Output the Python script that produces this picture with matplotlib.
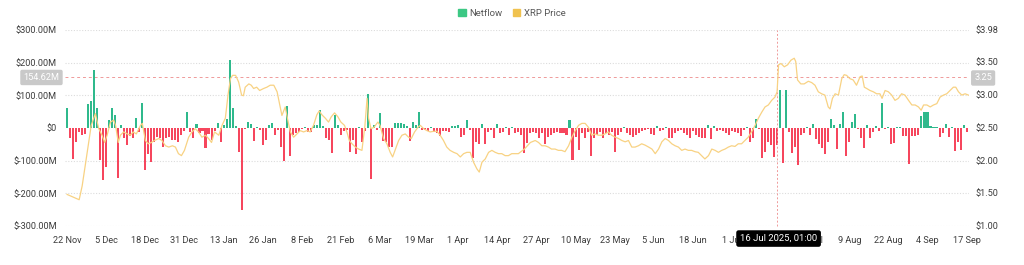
import numpy as np
import pandas as pd
import matplotlib
matplotlib.use("Agg")
import matplotlib.pyplot as plt
from matplotlib.patches import Patch

# daily netflow, $M, starting 22 Nov 2024
start_date = "2024-11-22"
netflow = [
    62, -30, -95, -42, -12, -20, -18, 72, 82, 177,
    62, -98, -158, -118, 24, 62, 40, -152, 8, -30,
    -52, -25, -32, 30, -12, 78, -128, -80, -103, -42,
    -28, -32, -58, -32, -28, -38, -36, -44, -22, -10,
    50, -12, -32, 11, -16, -10, -62, -18, -38, -10,
    14, -44, 9, 28, 207, 62, 5, -74, -251, -3,
    19, 12, -39, 3, -6, -52, -37, 9, 16, -21,
    -5, -57, -100, 68, -85, -21, -16, -11, -3, 3,
    -11, -13, 9, 9, 55, 6, -32, -37, -75, 40,
    8, -21, -9, -6, -72, -37, -80, 3, -42, -8,
    103, -156, 9, -5, 45, -40, -42, -57, -57, 14,
    14, 16, 12, 6, -40, 17, 9, 48, -6, -6,
    -9, 3, -11, -16, -23, -9, -9, -11, 6, 7,
    9, -27, -21, 23, -5, -91, -42, -50, 13, -50,
    -13, -5, -30, 11, -16, -11, 3, -21, 3, -16,
    -13, -21, -75, -47, -14, -11, -16, -32, -16, -50,
    -27, -21, -16, -11, -16, -14, -21, 24, -98, -27,
    -67, -16, -32, -11, -85, -32, -21, -11, -30, -16,
    -21, -11, -72, -21, -11, 4, -16, -21, -27, -21,
    -16, -9, -6, -4, -19, -21, 6, -9, -6, 4,
    -32, -30, -16, -9, -6, -16, -21, -32, -9, -21,
    -27, -32, -32, 9, -34, 6, -9, -6, -9, -16,
    -21, -9, -11, -16, -23, -6, 3, -44, -32, 26,
    -4, -91, -72, -42, -52, -90, -52, 115, -106, 115,
    -11, -78, -57, -113, -21, -16, 3, -21, 13, -35,
    -50, -60, -81, -44, 26, 9, -64, 12, 48, -85,
    -42, 17, 43, -4, -30, -60, 9, -32, -11, 6,
    -9, 75, -4, 3, -49, -47, 3, 3, -23, -23,
    -110, -23, -23, -21, 38, 50, 50, 6, 4, 4,
    -27, -16, 12, -29, 3, -69, -42, -67, 9, -13,
]

# XRP price samples (days since 22 Nov 2024, USD)
price_day = [
    0, 2, 4, 5, 6, 7, 8, 9.4, 10.5, 11.6, 12.5, 13.3, 14.4, 15.5, 16.1, 17, 17.7,
    18.8, 20, 21, 22, 23, 24.4, 25, 26, 27, 28, 29, 30.5, 31.5, 32.7, 33.8, 35,
    36, 37, 38, 39, 40.4, 41.5, 42.6, 43.7, 44.8, 46, 47, 48, 49, 50.4, 51.5,
    52.6, 53.5, 54.3, 55, 56, 57, 58, 58.6, 59.2, 60.4, 61.2, 62, 63, 64, 65.3,
    66.4, 67.5, 68.7, 69.8, 70.6, 71.4, 72.5, 73.4, 74.2, 75.3, 76.4, 77.5,
    78.6, 79.7, 80.8, 81.9, 83, 83.8, 84.7, 85.8, 86.9, 87.8, 88.9, 90, 91,
    92.2, 93, 93.8, 94.7, 95.8, 96.9, 98, 99, 99.7, 100.2, 101, 102, 103.3,
    104, 105.2, 106.3, 107.4, 108.2, 109, 110.2, 111.3, 112.4, 113.5, 114.4,
    115.5, 116.6, 117.4, 118.5, 119.6, 120.7, 121.8, 122.9, 124, 125.1, 126.2,
    127.3, 128.5, 129.6, 130.7, 131.8, 132.9, 134, 135.1, 136.2, 137, 137.9,
    139, 140.1, 141.2, 142.3, 143.4, 144.5, 145.6, 146.7, 147.8, 150, 152, 154,
    155.6, 156.7, 157.8, 158.9, 160, 161, 162.2, 163.3, 164.4, 165.5, 166.7,
    167.8, 168.9, 170, 171.1, 172.2, 173.3, 174.4, 175.5, 176.6, 177.7, 178.8,
    179.9, 181, 182.2, 183.3, 184.4, 185.5, 186.6, 187.7, 188.8, 189.9, 191,
    192.1, 193.3, 194.4, 195.5, 196.6, 197.7, 198.8, 199.9, 201, 202.1, 203.2,
    204.3, 205.4, 206.5, 207.6, 208.7, 209.8, 210.9, 212, 213.2, 214.3, 215.4,
    216.5, 217.6, 218.7, 219.8, 220.9, 222, 223.1, 224.2, 225.3, 226.4, 227.5,
    228.7, 229.8, 230.9, 232, 233.1, 234.2, 235.3, 236, 236.5, 237.3, 238.4,
    239.5, 240.6, 241.7, 242.2, 242.8, 243.9, 245, 246.4, 247.5, 248.6, 249.7,
    250.8, 251.9, 253, 253.6, 254.4, 255.3, 256.4, 257.5, 258.3, 259.1, 260.2,
    261.3, 262.4, 263.6, 264.3, 265, 265.8, 266.9, 268, 269.1, 270.2, 270.9,
    271.9, 273, 274.1, 275.2, 276.3, 277.4, 278.5, 279.7, 280.8, 281.9, 283,
    283.9, 284.7, 285.8, 286.9, 288, 289.1, 290.2, 291.3, 292.4, 293.5, 294.6,
    295.4, 296.3, 297.4, 298.5, 299.6,
]
price = [
    1.48, 1.44, 1.40, 1.61, 1.91, 2.22, 2.53, 2.71, 2.48, 2.38, 2.27, 2.38, 2.58, 2.61, 2.53, 2.27, 2.38,
    2.43, 2.40, 2.38, 2.43, 2.40, 2.53, 2.56, 2.30, 2.25, 2.27, 2.30, 2.33, 2.30, 2.22, 2.20, 2.22,
    2.20, 2.10, 2.07, 2.15, 2.35, 2.43, 2.48, 2.43, 2.35, 2.38, 2.33, 2.27, 2.43, 2.38, 2.53,
    2.64, 3.00, 3.24, 3.29, 3.29, 3.19, 2.99, 2.98, 3.11, 3.16, 3.14, 3.09, 3.11, 3.06, 3.09,
    3.11, 3.14, 3.14, 3.04, 2.86, 2.68, 2.81, 2.60, 2.43, 2.35, 2.40, 2.45,
    2.43, 2.45, 2.43, 2.53, 2.69, 2.75, 2.69, 2.64, 2.58, 2.66, 2.72, 2.66, 2.58,
    2.53, 2.43, 2.30, 2.25, 2.20, 2.17, 2.15, 2.53, 2.94, 2.64, 2.48, 2.50, 2.58,
    2.53, 2.33, 2.25, 2.12, 2.05, 2.15, 2.30, 2.38, 2.40, 2.35, 2.33,
    2.43, 2.50, 2.53, 2.48, 2.45, 2.43, 2.44, 2.44, 2.38, 2.30, 2.20,
    2.15, 2.12, 2.10, 2.05, 2.10, 2.12, 2.12, 1.97, 1.87, 1.82, 1.97,
    2.02, 2.12, 2.15, 2.12, 2.10, 2.10, 2.07, 2.07, 2.10, 2.10, 2.17, 2.27,
    2.30, 2.27, 2.22, 2.22, 2.20, 2.17, 2.17, 2.15, 2.15, 2.13, 2.22,
    2.35, 2.45, 2.53, 2.56, 2.56, 2.50, 2.38, 2.40, 2.38, 2.38, 2.40,
    2.43, 2.38, 2.35, 2.33, 2.30, 2.28, 2.30, 2.20, 2.20, 2.22, 2.25,
    2.23, 2.20, 2.17, 2.10, 2.17, 2.28, 2.33, 2.30, 2.25, 2.22, 2.20,
    2.15, 2.17, 2.15, 2.15, 2.13, 2.12, 2.07, 2.02, 2.07, 2.17, 2.15,
    2.12, 2.15, 2.17, 2.20, 2.22, 2.21, 2.25, 2.25, 2.30, 2.35, 2.43,
    2.53, 2.64, 2.73, 2.81, 2.84, 2.91, 2.96, 3.04, 3.45, 3.47, 3.42,
    3.45, 3.52, 3.55, 3.50, 3.22, 3.16, 3.16, 3.20, 3.18, 3.14, 3.04,
    3.01, 2.99, 2.81, 2.78, 2.94, 3.01, 2.99, 3.24, 3.30, 3.29, 3.24,
    3.22, 3.14, 3.27, 3.28, 3.11, 3.09, 3.06, 3.04, 3.01, 3.01, 2.94,
    3.06, 3.04, 2.99, 2.91, 2.94, 3.01, 2.99, 2.91, 2.84, 2.84, 2.81,
    2.76, 2.84, 2.84, 2.81, 2.84, 2.86, 2.96, 2.99, 3.01, 3.06, 3.11,
    3.11, 3.04, 2.99, 3.01, 2.99,
]

left_ticks = [-300, -200, -100, 0, 100, 200, 300]
right_ticks = [1.00, 1.50, 2.00, 2.50, 3.00, 3.50, 3.98]
cursor_day = 236.04   # 16 Jul 2025, 01:00
cursor_flow = 154.62
cursor_price = 3.25

GREEN = "#2fb98c"
RED = "#f6465d"
GOLD = "#f8d283"
TXT = "#3c3c3c"
GRID = "#dcdcdc"
CROSS = "#ef9a9a"

plt.rcParams["font.family"] = ["Roboto", "DejaVu Sans"]

days = np.arange(len(netflow))
dates = pd.date_range(start_date, periods=len(netflow), freq="D")
vals = np.array(netflow, dtype=float)

fig = plt.figure(figsize=(10.24, 2.65), dpi=100)
ax = fig.add_axes([0.0635, 0.147, 0.8825, 0.740])

colors = [GREEN if v >= 0 else RED for v in vals]
ax.bar(days, vals, width=0.68, color=colors, zorder=2)

ax.set_xlim(-0.7, len(netflow) - 0.3)
ax.set_ylim(-300, 300)
ax.set_yticks(left_ticks)
ax.set_yticklabels(["$0" if t == 0 else f"${t:.2f}M" for t in left_ticks])
for t in left_ticks:
    if t != 0:
        ax.axhline(t, color=GRID, lw=0.8, ls=(0, (1, 1.5)), zorder=0)

# the label under the tooltip (14 Jul) is hidden in the original
xt = np.arange(0, len(netflow), 13)
ax.set_xticks(xt)
ax.set_xticklabels(["" if abs(i - cursor_day) < 5 else f"{dates[i].day} {dates[i].strftime('%b')}"
                    for i in xt])

ax2 = ax.twinx()
ax2.plot(price_day, price, color=GOLD, lw=0.9, zorder=3)
ax2.set_ylim(1.00, 3.98)
ax2.set_yticks(right_ticks)
ax2.set_yticklabels([f"${t:.2f}" for t in right_ticks])

for a in (ax, ax2):
    for s in a.spines.values():
        s.set_visible(False)
    a.tick_params(length=0, labelsize=6.6, colors=TXT)
ax.tick_params(axis="x", pad=7)
ax.tick_params(axis="y", pad=6)
ax2.tick_params(axis="y", pad=5)

# crosshair
ax.axhline(cursor_flow, color=CROSS, lw=0.7, ls=(0, (3, 3)), zorder=1)
ax.axvline(cursor_day, ymin=0, ymax=1, color=CROSS, lw=0.7, ls=(0, (2, 2)),
           zorder=4, clip_on=False)
ax.annotate("154.62M", xy=(0, cursor_flow), xycoords=("axes fraction", "data"),
            xytext=(-4, 0), textcoords="offset points", ha="right", va="center",
            fontsize=6.6, color="white",
            bbox=dict(boxstyle="round,pad=0.35,rounding_size=0.2", fc="#c9c9c9", ec="none"))
ax2.annotate(f"{cursor_price:.2f}", xy=(1, cursor_price), xycoords=("axes fraction", "data"),
             xytext=(4, 0), textcoords="offset points", ha="left", va="center",
             fontsize=6.6, color="white",
             bbox=dict(boxstyle="round,pad=0.35,rounding_size=0.2", fc="#c9c9c9", ec="none"))

# tooltip on the date axis
ax.annotate("16 Jul 2025, 01:00", xy=(cursor_day, 0), xycoords=("data", "axes fraction"),
            xytext=(1, -9), textcoords="offset points", ha="center", va="center",
            fontsize=6.8, color="white", zorder=10, annotation_clip=False,
            bbox=dict(boxstyle="round,pad=0.4,rounding_size=0.25", fc="black", ec="none"))

handles = [Patch(color="#3cc884", label="Netflow"), Patch(color="#f0c24f", label="XRP Price")]
fig.legend(handles=handles, loc="upper center", bbox_to_anchor=(0.5, 1.0), ncol=2,
           frameon=False, fontsize=6.8, handlelength=0.8, handleheight=0.8,
           handletextpad=0.4, columnspacing=1.1, labelcolor="#555555")

fig.savefig("out.png", dpi=100)
